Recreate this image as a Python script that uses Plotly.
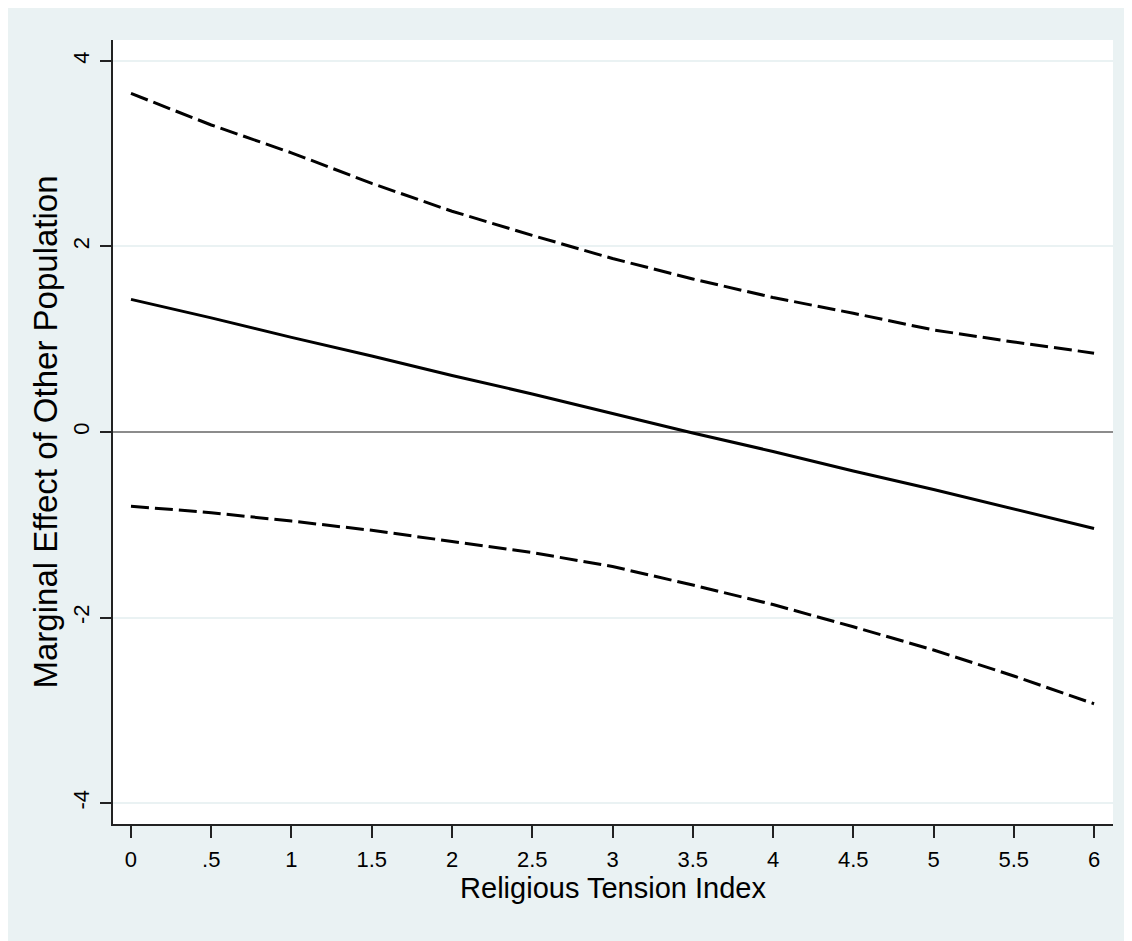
import plotly.graph_objects as go

# Data
x_vals = [0, 0.5, 1, 1.5, 2, 2.5, 3, 3.5, 4, 4.5, 5, 5.5, 6]
marginal_effect = [1.43, 1.23, 1.02, 0.82, 0.61, 0.41, 0.20, -0.01, -0.21, -0.42, -0.62, -0.83, -1.04]
upper_ci = [3.65, 3.31, 3.01, 2.68, 2.38, 2.12, 1.87, 1.65, 1.45, 1.28, 1.10, 0.97, 0.85]
lower_ci = [-0.80, -0.87, -0.96, -1.06, -1.18, -1.30, -1.45, -1.65, -1.86, -2.10, -2.35, -2.63, -2.93]

x_tickvals = [0, 0.5, 1, 1.5, 2, 2.5, 3, 3.5, 4, 4.5, 5, 5.5, 6]
x_ticktext = ["0", ".5", "1", "1.5", "2", "2.5", "3", "3.5", "4", "4.5", "5", "5.5", "6"]
y_tickvals = [-4, -2, 0, 2, 4]
y_ticktext = ["-4", "-2", "0", "2", "4"]

BG = "#eaf2f3"
FONT = "Liberation Sans, Arial, sans-serif"

fig = go.Figure()
fig.add_trace(go.Scatter(x=x_vals, y=upper_ci, mode="lines",
                         line=dict(color="black", width=3, dash="18px,6px"),
                         showlegend=False, hoverinfo="skip"))
fig.add_trace(go.Scatter(x=x_vals, y=marginal_effect, mode="lines",
                         line=dict(color="black", width=3),
                         showlegend=False))
fig.add_trace(go.Scatter(x=x_vals, y=lower_ci, mode="lines",
                         line=dict(color="black", width=3, dash="18px,6px"),
                         showlegend=False, hoverinfo="skip"))

# the page body adds an 8px white margin at top/left
W, H = 1124, 933
ml, mr, mt, mb = 105, 19, 32, 117

fig.update_layout(
    width=W, height=H,
    margin=dict(l=ml, r=mr, t=mt, b=mb, pad=0),
    paper_bgcolor=BG, plot_bgcolor="white",
    font=dict(family=FONT, color="black"),
    showlegend=False,
)
fig.update_xaxes(
    range=[-0.112, 6.118], tickvals=x_tickvals, ticktext=x_ticktext,
    showgrid=False, zeroline=False,
    showline=True, linecolor="#222", linewidth=2,
    ticks="outside", ticklen=12, tickwidth=2, tickcolor="#222",
    ticklabelstandoff=3,
    tickfont=dict(size=22, family=FONT),
    title=dict(text="Religious Tension Index", font=dict(size=29, family=FONT), standoff=0),
)
fig.update_yaxes(
    range=[-4.226, 4.226], tickvals=y_tickvals, ticktext=y_ticktext,
    showgrid=True, gridcolor=BG, gridwidth=2,
    zeroline=True, zerolinecolor="#8c8c8c", zerolinewidth=1.5,
    showline=True, linecolor="#222", linewidth=2,
    ticks="outside", ticklen=11, tickwidth=2, tickcolor="#222",
    tickangle=-90, ticklabelstandoff=2,
    tickfont=dict(size=22, family=FONT),
    title=dict(text="Marginal Effect of Other Population", font=dict(size=33, family=FONT), standoff=2),
)

fig.write_html("out.html", config={"displayModeBar": False})
